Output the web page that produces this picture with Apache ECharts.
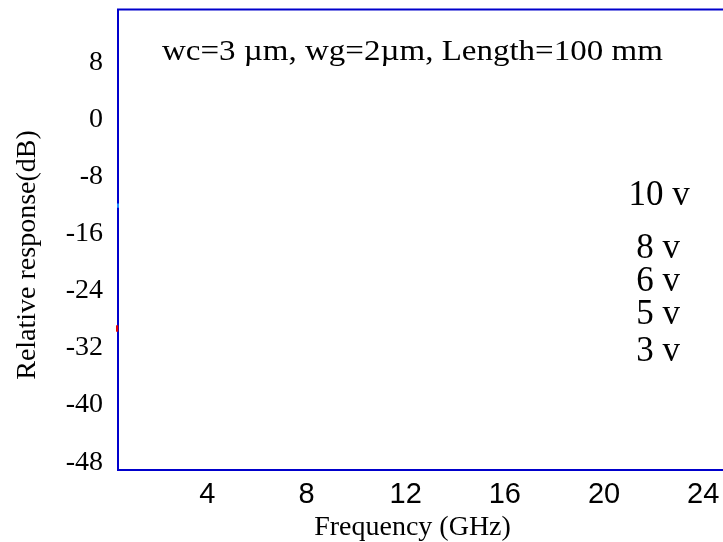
<!DOCTYPE html>
<html>
<head>
<meta charset="utf-8">
<script src="https://cdn.jsdelivr.net/npm/echarts@6/dist/echarts.min.js"></script>
<style>
  html, body { margin: 0; padding: 0; background: #fff; }
  #chart { width: 723px; height: 542px; }
</style>
</head>
<body>
<div id="chart"></div>
<script>
// Axis ranges and tick labels
const xRange = [0.4, 25.2];
const yRange = [-49.1, 15.5];
const xTicks = [4, 8, 12, 16, 20, 24];
const yTicks = [-48, -40, -32, -24, -16, -8, 0, 8];

// Bias-voltage curve fragments visible at the left edge of the frame
const curve10v = [[0.4, -11.7], [0.4, -12.3]];
const curve3v = [[0.35, -28.8], [0.35, -29.7]];

// Voltage annotations, parameter caption and axis titles
const voltageLabels = ['10 v', '8 v', '6 v', '5 v', '3 v'];
const caption = 'wc=3 \u00b5m, wg=2\u00b5m, Length=100 mm';
const xTitle = 'Frequency (GHz)';
const yTitle = 'Relative response(dB)';

const serif = '"Liberation Serif", "Times New Roman", serif';
const sans = '"Liberation Sans", Arial, sans-serif';

const labelY = [196, 249, 282, 315, 352];
const labelX = [659, 658, 658, 658, 658];

const chart = echarts.init(document.getElementById('chart'), null, { renderer: 'canvas' });

const voltageTexts = voltageLabels.map((t, i) => ({
  type: 'text', x: labelX[i], y: labelY[i],
  style: {
    text: t, font: '35px ' + serif, fill: '#000',
    align: 'center', verticalAlign: 'middle'
  }
}));

chart.setOption({
  animation: false,
  backgroundColor: '#ffffff',
  grid: {
    left: 118, top: 9.5, right: -10, bottom: 72,
    outerBoundsMode: 'none',
    containLabel: false,
    show: true, borderColor: '#0000cc', borderWidth: 2,
    backgroundColor: 'transparent'
  },
  xAxis: {
    type: 'value', min: xRange[0], max: xRange[1],
    name: xTitle, nameLocation: 'middle', nameGap: 38,
    nameTextStyle: { fontFamily: serif, fontSize: 28, color: '#000', padding: [0, 26, 0, 0] },
    axisLine: { show: false }, axisTick: { show: false },
    splitLine: { show: false },
    axisLabel: {
      customValues: xTicks, fontFamily: sans, fontSize: 29, color: '#000', margin: 10
    }
  },
  yAxis: {
    type: 'value', min: yRange[0], max: yRange[1],
    axisLine: { show: false }, axisTick: { show: false },
    splitLine: { show: false },
    axisLabel: {
      customValues: yTicks, fontFamily: serif, fontSize: 28, color: '#000', margin: 15
    }
  },
  series: [
    {
      name: '10 v', type: 'line', data: curve10v, showSymbol: false,
      lineStyle: { color: '#1e90ff', width: 2 }, clip: false
    },
    {
      name: '3 v', type: 'line', data: curve3v, showSymbol: false,
      lineStyle: { color: '#e00000', width: 3 }, clip: false
    }
  ],
  graphic: [
    {
      type: 'text', x: 162, y: 52, scaleX: 1.10,
      style: { text: caption, font: '30px ' + serif, fill: '#000', verticalAlign: 'middle' }
    },
    {
      // vertical title, reading bottom to top
      type: 'text', x: 28, y: 255, rotation: Math.PI / 2,
      style: {
        text: yTitle, font: '28px ' + serif, fill: '#000',
        align: 'center', verticalAlign: 'middle'
      }
    }
  ].concat(voltageTexts)
});
</script>
</body>
</html>
